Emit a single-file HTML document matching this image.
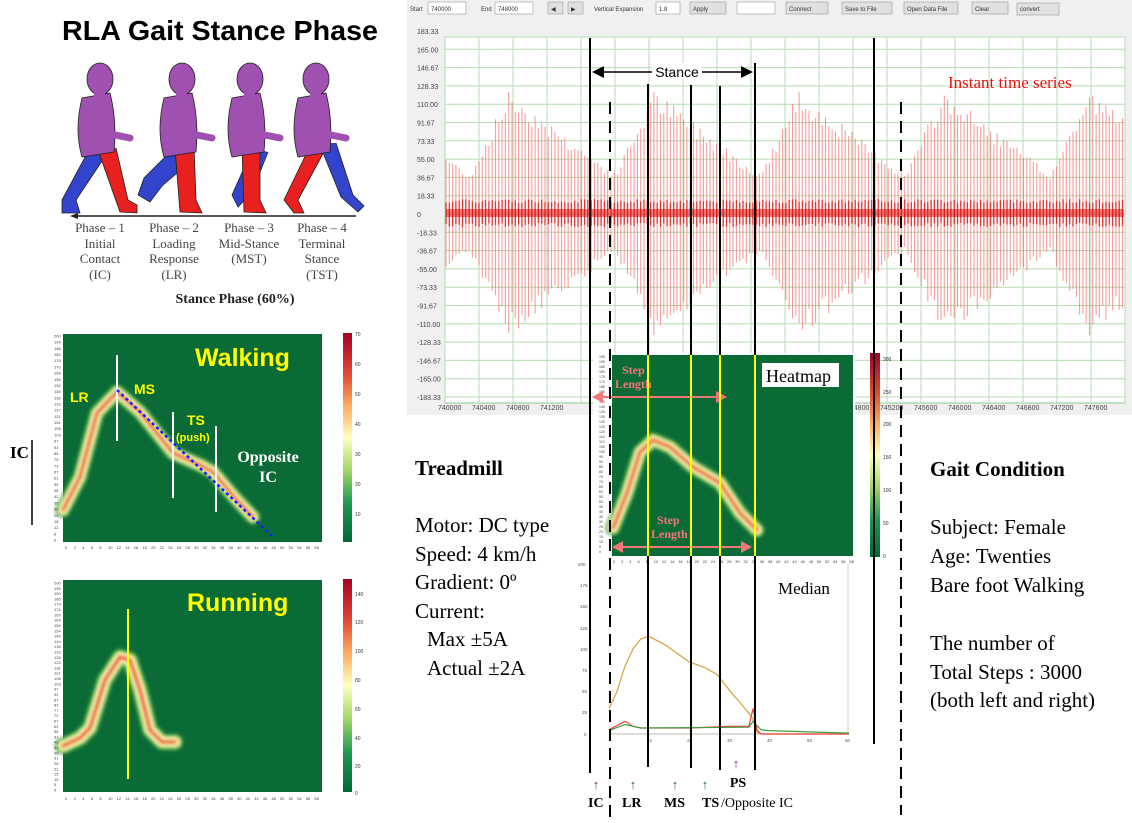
<!DOCTYPE html>
<html><head><meta charset="utf-8">
<style>
html,body{margin:0;padding:0;background:#fff;}
svg{display:block;}
.ser{font-family:"Liberation Serif",serif;}
.san{font-family:"Liberation Sans",sans-serif;}
</style></head>
<body>
<svg id="s" width="1132" height="823" viewBox="0 0 1132 823" xmlns="http://www.w3.org/2000/svg">
<defs>
<linearGradient id="cb" x1="0" y1="0" x2="0" y2="1">
<stop offset="0" stop-color="#a50026"/><stop offset="0.2" stop-color="#e34a33"/>
<stop offset="0.35" stop-color="#fdae61"/><stop offset="0.5" stop-color="#ffffbf"/>
<stop offset="0.65" stop-color="#a6d96a"/><stop offset="0.82" stop-color="#1a9850"/>
<stop offset="1" stop-color="#006837"/></linearGradient>
<filter id="bl" x="-20%" y="-20%" width="140%" height="140%"><feGaussianBlur stdDeviation="1.6"/></filter>
</defs>

<!-- Title -->
<text x="62" y="40" class="san" font-size="28" font-weight="bold" textLength="316" lengthAdjust="spacingAndGlyphs">RLA Gait Stance Phase</text>

<!-- walking figures -->
<g id="figs"></g>
<line x1="75" y1="216" x2="356" y2="216" stroke="#222" stroke-width="1.5"/>
<polygon points="70,216 78,213 78,219" fill="#222"/>
<g class="ser" font-size="13" fill="#444" text-anchor="middle">
<text x="100" y="232">Phase – 1</text><text x="100" y="248">Initial</text><text x="100" y="263">Contact</text><text x="100" y="279">(IC)</text>
<text x="174" y="232">Phase – 2</text><text x="174" y="248">Loading</text><text x="174" y="263">Response</text><text x="174" y="279">(LR)</text>
<text x="249" y="232">Phase – 3</text><text x="249" y="248">Mid-Stance</text><text x="249" y="263">(MST)</text>
<text x="322" y="232">Phase – 4</text><text x="322" y="248">Terminal</text><text x="322" y="263">Stance</text><text x="322" y="279">(TST)</text>
</g>
<text x="235" y="303" class="ser" font-size="14" font-weight="bold" text-anchor="middle" fill="#222">Stance Phase (60%)</text>

<!-- Walking heatmap -->
<rect x="63" y="334" width="259" height="208" fill="#0a6b36"/>
<g id="wk"></g>
<rect x="343" y="333" width="9" height="209" fill="url(#cb)"/>
<g class="san" font-size="5" fill="#333">
<text x="355" y="336">70</text><text x="355" y="366">60</text><text x="355" y="396">50</text><text x="355" y="426">40</text><text x="355" y="456">30</text><text x="355" y="486">20</text><text x="355" y="516">10</text></g>
<line x1="117" y1="355" x2="117" y2="441" stroke="#fff" stroke-width="2"/>
<line x1="173" y1="412" x2="173" y2="498" stroke="#fff" stroke-width="2"/>
<line x1="216" y1="426" x2="216" y2="512" stroke="#fff" stroke-width="2"/>
<line x1="117" y1="390" x2="272" y2="536" stroke="#1020ff" stroke-width="2.5" stroke-dasharray="3,3"/>
<text x="195" y="366" class="san" font-size="25" font-weight="bold" fill="#ffff00">Walking</text>
<text x="70" y="402" class="san" font-size="14" font-weight="bold" fill="#ffff00">LR</text>
<text x="134" y="394" class="san" font-size="14" font-weight="bold" fill="#ffff00">MS</text>
<text x="187" y="425" class="san" font-size="14" font-weight="bold" fill="#ffff00">TS</text>
<text x="176" y="441" class="san" font-size="11" font-weight="bold" fill="#ffff00">(push)</text>
<text x="268" y="462" class="ser" font-size="16" font-weight="bold" fill="#fff" text-anchor="middle">Opposite</text>
<text x="268" y="482" class="ser" font-size="16" font-weight="bold" fill="#fff" text-anchor="middle">IC</text>
<text x="10" y="458" class="ser" font-size="17" font-weight="bold">IC</text>
<line x1="32" y1="440" x2="32" y2="525" stroke="#000" stroke-width="1.5"/>

<!-- Running heatmap -->
<rect x="63" y="580" width="259" height="212" fill="#0a6b36"/>
<g id="rn"></g>
<rect x="343" y="579" width="9" height="213" fill="url(#cb)"/>
<g class="san" font-size="5" fill="#333">
<text x="355" y="596">140</text><text x="355" y="624">120</text><text x="355" y="653">100</text><text x="355" y="682">80</text><text x="355" y="711">60</text><text x="355" y="740">40</text><text x="355" y="768">20</text><text x="355" y="795">0</text></g>
<line x1="128" y1="609" x2="128" y2="779" stroke="#ffff00" stroke-width="2"/>
<text x="187" y="611" class="san" font-size="25" font-weight="bold" fill="#ffff00">Running</text>

<!-- Time series chart -->
<rect x="407" y="0" width="725" height="415" fill="#f0f0f0"/>
<g id="tb" class="san" font-size="6" fill="#333"></g>
<rect x="445" y="37" width="680" height="366" fill="#fff" stroke="#8fc98f" stroke-width="1"/>
<g id="grid"></g>
<g id="sig"></g>
<g id="ylab" class="san" font-size="7" fill="#444"></g>
<g id="xlab" class="san" font-size="7" fill="#444"></g>
<text x="948" y="88" class="ser" font-size="17" fill="#ee1111">Instant time series</text>

<!-- heatmap overlay -->
<rect x="593" y="353" width="262" height="205" fill="#fff"/>
<rect x="612" y="355" width="241" height="201" fill="#0a6b36"/>
<g id="hm"></g>
<rect x="870" y="353" width="10" height="204" fill="url(#cb)"/>
<g class="san" font-size="5" fill="#333">
<text x="883" y="361">300</text><text x="883" y="394">250</text><text x="883" y="426">200</text><text x="883" y="459">150</text><text x="883" y="492">100</text><text x="883" y="525">50</text><text x="883" y="558">0</text></g>
<rect x="762" y="363" width="77" height="24" fill="#fff"/>
<text x="766" y="382" class="ser" font-size="18">Heatmap</text>
<g class="ser" font-size="12" fill="#f07878" font-weight="bold">
<text x="622" y="374">Step</text><text x="615" y="388">Length</text>
<text x="657" y="524">Step</text><text x="651" y="538">Length</text></g>
<line x1="600" y1="397" x2="718" y2="397" stroke="#f07878" stroke-width="2"/>
<polygon points="592,397 603,391 603,403" fill="#f07878"/><polygon points="727,397 716,391 716,403" fill="#f07878"/>
<line x1="620" y1="547" x2="744" y2="547" stroke="#f07878" stroke-width="2"/>
<polygon points="612,547 623,541 623,553" fill="#f07878"/><polygon points="752,547 741,541 741,553" fill="#f07878"/>

<!-- median chart -->
<line x1="609" y1="734" x2="848" y2="734" stroke="#bbb"/><line x1="848" y1="564" x2="848" y2="734" stroke="#ccc"/>
<g class="san" font-size="4.5" fill="#555">
<text x="578" y="566">200</text><text x="580" y="587">175</text><text x="580" y="608">150</text><text x="580" y="630">125</text><text x="580" y="651">100</text><text x="582" y="672">75</text><text x="582" y="693">50</text><text x="582" y="714">25</text><text x="584" y="736">0</text>
<text x="647" y="742">10</text><text x="687" y="742">20</text><text x="727" y="742">30</text><text x="767" y="742">40</text><text x="807" y="742">50</text><text x="845" y="742">60</text></g>
<text x="778" y="594" class="ser" font-size="17">Median</text>
<g id="med" fill="none" stroke-width="1.2"></g>

<!-- overlay vertical lines -->
<g stroke="#000" stroke-width="2">
<line x1="590" y1="38" x2="590" y2="773"/>
<line x1="648" y1="84" x2="648" y2="767"/>
<line x1="691" y1="85" x2="691" y2="768"/>
<line x1="720" y1="86" x2="720" y2="770"/>
<line x1="755" y1="63" x2="755" y2="770"/>
<line x1="874" y1="38" x2="874" y2="744"/>
</g>
<g stroke="#000" stroke-width="2" stroke-dasharray="12,7">
<line x1="610" y1="102" x2="610" y2="823"/>
<line x1="901" y1="102" x2="901" y2="815"/>
</g>
<g stroke="#ffff00" stroke-width="2">
<line x1="648" y1="355" x2="648" y2="556"/><line x1="691" y1="355" x2="691" y2="556"/>
<line x1="720" y1="355" x2="720" y2="556"/><line x1="755" y1="355" x2="755" y2="556"/>
</g>
<!-- stance arrow -->
<line x1="600" y1="72" x2="745" y2="72" stroke="#000" stroke-width="1.5"/>
<polygon points="592,72 604,66 604,78" fill="#000"/><polygon points="753,72 741,66 741,78" fill="#000"/>
<rect x="652" y="63" width="50" height="16" fill="#fff"/>
<text x="677" y="77" class="san" font-size="14" text-anchor="middle">Stance</text>

<!-- bottom labels -->
<g class="ser" font-size="13" text-anchor="middle">
<text x="596" y="789" fill="#802080">↑</text><text x="633" y="789" fill="#207020">↑</text>
<text x="675" y="789" fill="#207020">↑</text><text x="705" y="789" fill="#207020">↑</text>
<text x="736" y="768" fill="#802080">↑</text></g>
<g class="ser" font-size="14" font-weight="bold">
<text x="738" y="787" text-anchor="middle">PS</text>
<text x="588" y="807">IC</text><text x="622" y="807">LR</text><text x="664" y="807">MS</text><text x="702" y="807">TS</text></g>
<text x="721" y="807" class="ser" font-size="14">/Opposite IC</text>

<!-- text blocks -->
<g class="ser" font-size="21">
<text x="415" y="475" font-weight="bold">Treadmill</text>
<text x="415" y="532">Motor: DC type</text><text x="415" y="561">Speed: 4 km/h</text>
<text x="415" y="589">Gradient: 0º</text><text x="415" y="618">Current:</text>
<text x="427" y="646">Max ±5A</text><text x="427" y="675">Actual ±2A</text>
<text x="930" y="476" font-weight="bold">Gait Condition</text>
<text x="930" y="534">Subject: Female</text><text x="930" y="563">Age: Twenties</text>
<text x="930" y="592">Bare foot Walking</text>
<text x="930" y="650">The number of</text><text x="930" y="679">Total Steps : 3000</text>
<text x="930" y="707">(both left and right)</text>
</g>
</svg>
<script>
var NS="http://www.w3.org/2000/svg";
function el(p,t,a,txt){var e=document.createElementNS(NS,t);for(var k in a)e.setAttribute(k,a[k]);if(txt!==undefined)e.textContent=txt;document.getElementById(p).appendChild(e);return e;}
// figures
var fx=[100,182,250,316];
fx.forEach(function(x,i){
 var bl=[["M",x-10,148,"L",x-38,200,"L",x-38,213,"L",x-20,213,"L",x-24,200,"L",x+4,158],
  ["M",x-8,148,"L",x-38,178,"L",x-44,195,"L",x-32,202,"L",x-20,186,"L",x+8,162],
  ["M",x+3,148,"L",x-18,195,"L",x-12,207,"L",x+2,192,"L",x+18,152],
  ["M",x+3,143,"L",x+25,197,"L",x+42,212,"L",x+48,206,"L",x+37,195,"L",x+20,143]][i];
 el("figs","path",{d:bl.join(" "),fill:"#3344cc",stroke:"#222","stroke-width":"0.8"});
 var rl=[["M",x-2,150,"L",x+20,212,"L",x+37,213,"L",x+37,205,"L",x+28,200,"L",x+16,148],
  ["M",x-7,148,"L",x-2,212,"L",x+20,213,"L",x+14,200,"L",x+12,146],
  ["M",x-8,148,"L",x-6,212,"L",x+16,213,"L",x+10,200,"L",x+10,148],
  ["M",x-6,146,"L",x-32,200,"L",x-22,213,"L",x-12,213,"L",x-18,200,"L",x+10,148]][i];
 el("figs","path",{d:rl.join(" "),fill:"#e82020",stroke:"#222","stroke-width":"0.8"});
 el("figs","path",{d:"M"+(x-18)+",98 Q"+(x-26)+",130 "+(x-18)+",157 L"+(x+14)+",152 Q"+(x+17)+",120 "+(x+10)+",93 Z",fill:"#a050b0",stroke:"#222","stroke-width":"0.8"});
 el("figs","path",{d:"M"+(x-8)+",105 L"+(x+10)+",134 L"+(x+30)+",138",fill:"none",stroke:"#a050b0","stroke-width":"7","stroke-linecap":"round"});
 el("figs","ellipse",{cx:x,cy:79,rx:13,ry:16,fill:"#a050b0",stroke:"#222","stroke-width":"0.8"});
 el("figs","rect",{x:x-6,y:90,width:11,height:10,fill:"#a050b0"});
});
// heat curve helper
function heat(g,pts,w){
 var d="M"+pts.map(function(p){return p.join(",")}).join(" L");
 var gg=el(g,"g",{filter:"url(#bl)"});
 var lay=[[w*2.6,"#3a9a48",0.9],[w*2.0,"#a6d96a",0.9],[w*1.4,"#ffffbf",1],[w*0.8,"#fdae61",0.9],[w*0.4,"#d73027",0.9]];
 lay.forEach(function(l){var e=document.createElementNS(NS,"path");var a={d:d,fill:"none",stroke:l[1],"stroke-width":l[0],"stroke-linejoin":"round","stroke-linecap":"round",opacity:l[2]};for(var k in a)e.setAttribute(k,a[k]);gg.appendChild(e);});
}
heat("wk",[[63,510],[80,477],[97,413],[117,392],[140,412],[173,453],[200,465],[213,472],[235,498],[253,517]],6);
heat("rn",[[63,746],[80,738],[90,728],[105,680],[120,657],[130,660],[140,690],[150,730],[162,742],[175,742]],6.5);
heat("hm",[[613,528],[627,493],[640,452],[653,440],[670,447],[693,467],[720,483],[740,513],[757,530]],6);
// left axis ticks
function ticks(g,x0,y0,y1,n,x1,yb){
 for(var i=0;i<n;i++){var y=y0+(y1-y0)*i/(n-1);el(g,"text",{x:x0-9,y:y+1.5,"font-size":"4",fill:"#444","font-family":"Liberation Sans"},String(Math.round(200-200*i/(n-1))));}
 for(var j=0;j<30;j++){el(g,"text",{x:x0+2+j*8.6,y:yb,"font-size":"4",fill:"#444","font-family":"Liberation Sans"},String(j*2));}
}
ticks("wk",63,336,540,34,322,549);ticks("rn",63,583,790,40,322,800);
for(var j=0;j<30;j++){el("hm","text",{x:613+j*8.15,y:563,"font-size":"4",fill:"#444","font-family":"Liberation Sans"},String(j*2));}
for(var i=0;i<40;i++){el("hm","text",{x:599,y:358+i*5,"font-size":"3.5",fill:"#444","font-family":"Liberation Sans"},String(195-i*5));}
// toolbar
var tb=[["Start",410,3,18,"t"],["740000",428,2,38,"b"],["End",481,3,18,"t"],["748000",495,2,38,"b"],["◀",548,2,15,"btn"],["▶",568,2,15,"btn"],["Vertical Expansion",594,3,60,"t"],["1.8",656,2,24,"b"],["Apply",690,2,36,"btn"],["",737,2,38,"b"],["Connect",786,2,42,"btn"],["Save to File",842,2,50,"btn"],["Open Data File",904,2,54,"btn"],["Clear",972,2,36,"btn"],["convert",1017,3,42,"btn"]];
tb.forEach(function(t){ if(t[4]!="t") el("tb","rect",{x:t[1],y:t[2],width:t[3],height:12,fill:t[4]=="b"?"#fff":"#e1e1e1",stroke:"#999","stroke-width":"0.6"});
 el("tb","text",{x:t[1]+(t[4]=="t"?0:3),y:11},t[0]);});
// grid
for(var i=0;i<=20;i++){var x=445+i*34;el("grid","line",{x1:x,y1:37,x2:x,y2:403,stroke:"#b5dcb5","stroke-width":"1"});}
for(var i=0;i<=20;i++){var y=31+i*18.3;if(y<37)y=37;el("grid","line",{x1:445,y1:y,x2:1125,y2:y,stroke:"#b5dcb5","stroke-width":"1"});}
var yl=["183.33","165.00","146.67","128.33","110.00","91.67","73.33","55.00","36.67","18.33","0","-18.33","-36.67","-55.00","-73.33","-91.67","-110.00","-128.33","-146.67","-165.00","-183.33"];
yl.forEach(function(t,i){el("ylab","text",{x:417,y:34+i*18.3},t);});
for(var i=0;i<20;i++){if(i>=4&&i<=8)continue;el("xlab","text",{x:438+i*34,y:410},String(740000+i*400));}
// signal
var seed=7;function rnd(){seed=(seed*9301+49297)%233280;return seed/233280;}
var d1="",d2="";
for(var x=446;x<1124;x+=3.3){
 var p=(((x-470)%145)+145)%145/145; var sh=p<0.27?p/0.27:1-(p-0.27)/0.73;
 var a=38+80*sh; var up=a*(0.85+0.2*rnd()); var dn=a*(0.85+0.2*rnd());
 d1+="M"+x.toFixed(1)+","+(213-up).toFixed(1)+"V"+(213+dn).toFixed(1);
 d2+="M"+x.toFixed(1)+","+(203-4*rnd()).toFixed(1)+"V"+(223+4*rnd()).toFixed(1);
}
el("sig","path",{d:d1,stroke:"#f04040","stroke-width":"1.1",opacity:"0.5",fill:"none"});
el("sig","path",{d:d2,stroke:"#e00000","stroke-width":"1.3",opacity:"0.7",fill:"none"});
el("sig","rect",{x:446,y:209,width:678,height:8,fill:"#e00000",opacity:"0.5"});
// median
function mp(a){return "M"+a.map(function(p){return (609+4*p[0]).toFixed(1)+","+(734-0.85*p[1]).toFixed(1)}).join(" L");}
el("med","path",{d:mp([[0,30],[2,50],[4,80],[6,100],[8,112],[10,115],[14,105],[20,85],[24,78],[27,70],[30,52],[34,30],[36,18],[37,2],[38,0],[60,0]]),stroke:"#d9a040"});
el("med","path",{d:mp([[0,5],[4,15],[6,9],[8,7],[20,7],[30,9],[35,9],[36,30],[37,5],[38,0],[60,0]]),stroke:"#f04040"});
el("med","path",{d:mp([[0,4],[4,11],[8,7],[35,8],[36,15],[38,5],[40,4],[60,1]]),stroke:"#40a040"});
</script>
</body></html>
